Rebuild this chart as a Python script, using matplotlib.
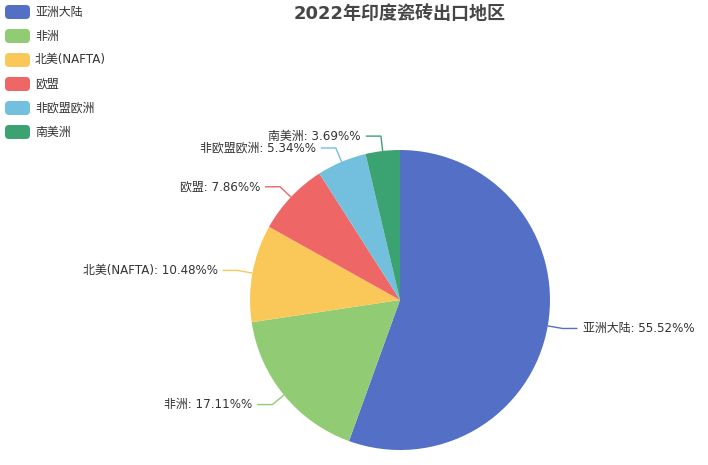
import numpy as np
import matplotlib
matplotlib.use("Agg")
import matplotlib.pyplot as plt
from matplotlib.patches import FancyBboxPatch

plt.rcParams['font.family'] = ['DejaVu Sans', 'Noto Sans CJK SC']

# datos
regiones = ["亚洲大陆", "非洲", "北美(NAFTA)", "欧盟", "非欧盟欧洲", "南美洲"]
porcentajes = [55.52, 17.11, 10.48, 7.86, 5.34, 3.69]
colores = ["#5470c6", "#91cc75", "#fac858", "#ee6666", "#73c0de", "#3ba272"]
titulo = "2022年印度瓷砖出口地区"

W, H = 708, 465
fig = plt.figure(figsize=(W / 100, H / 100), dpi=100)
ax = fig.add_axes([0, 0, 1, 1])
ax.set_xlim(0, W)
ax.set_ylim(0, H)
ax.set_aspect("equal")
ax.axis("off")

cx, cy, r = 400, H - 300, 150
ax.pie(porcentajes, colors=colores, startangle=90, counterclock=False,
       center=(cx, cy), radius=r, wedgeprops=dict(linewidth=0))
ax.set_xlim(0, W)
ax.set_ylim(0, H)

# etiquetas con línea guía
total = sum(porcentajes)
acum = 0
for nombre, v, c in zip(regiones, porcentajes, colores):
    mid = acum + v / 2
    acum += v
    ang = np.deg2rad(90 - 360 * mid / total)
    x0, y0 = cx + r * np.cos(ang), cy + r * np.sin(ang)
    x1, y1 = cx + (r + 15) * np.cos(ang), cy + (r + 15) * np.sin(ang)
    lado = 1 if np.cos(ang) >= 0 else -1
    x2 = x1 + 15 * lado
    ax.plot([x0, x1, x2], [y0, y1, y1], color=c, lw=1, solid_capstyle="butt")
    ax.text(x2 + 5 * lado, y1, f"{nombre}: {v:.2f}%%", fontsize=8.6, color="#333333",
            ha="left" if lado > 0 else "right", va="center")

# leyenda
for i, (nombre, c) in enumerate(zip(regiones, colores)):
    yc = H - 12 - 24 * i
    ax.add_patch(FancyBboxPatch((5, yc - 7), 25, 14,
                                boxstyle="round,pad=0,rounding_size=4",
                                facecolor=c, edgecolor="none"))
    ax.text(35, yc, nombre, fontsize=8.6, color="#333333", va="center", ha="left")

ax.text(400, H - 14, titulo, fontsize=13, fontweight="bold", color="#464646",
        ha="center", va="center")

fig.savefig("out.png", dpi=100)
